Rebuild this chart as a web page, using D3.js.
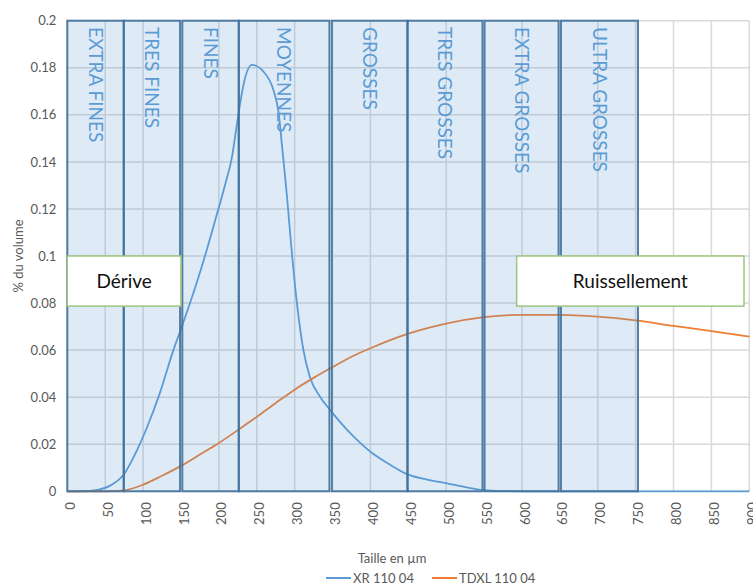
<!DOCTYPE html>
<html>
<head>
<meta charset="utf-8">
<script src="https://cdn.jsdelivr.net/npm/d3@7"></script>
<style>
    body { margin: 0; background: #fff; }
    svg { display: block; }
    text { font-family: Lato, 'Open Sans', sans-serif; }
</style>
</head>
<body>
<div id="chart"></div>
<script>
// particle size classes (µm)
const bandNames = ['EXTRA FINES', 'TRES FINES', 'FINES', 'MOYENNES', 'GROSSES', 'TRES GROSSES', 'EXTRA GROSSES', 'ULTRA GROSSES'];
const bandStart = [0, 74.5, 151.8, 226.3, 349.1, 448.9, 550.6, 651.4];
const bandEnd = [74.5, 148.8, 226.3, 345.9, 448.9, 547.9, 648.3, 753.1];

// annotation zones
const zoneNames = ['Dérive', 'Ruissellement'];
const zoneStart = [0, 593];
const zoneEnd = [150, 893];
const zoneTop = [0.1, 0.1];
const zoneBottom = [0.0787, 0.0787];

// XR 110 04
const xrSizes = [0, 25, 40, 56, 74, 92, 105, 122, 140, 150, 162, 177, 195, 208, 217, 226, 232, 243.5, 259, 272, 279, 283, 290, 296, 303, 311.6, 320, 334, 347, 378, 400, 425, 449, 475, 501, 525, 549, 575, 600, 700, 800, 900];
const xrValues = [0, 0.0001, 0.0006, 0.0023, 0.0069, 0.0175, 0.027, 0.0416, 0.06, 0.069, 0.08, 0.095, 0.115, 0.13, 0.1415, 0.1606, 0.172, 0.1812, 0.1783, 0.1705, 0.1606, 0.148, 0.125, 0.1025, 0.08, 0.06, 0.0487, 0.040, 0.0345, 0.0232, 0.0168, 0.0115, 0.0072, 0.005, 0.0034, 0.0018, 0.0005, 0.0001, 0, 0, 0, 0];

// TDXL 110 04
const tdxlSizes = [0, 50, 75, 100, 125, 150, 175, 200, 225, 250, 275, 300, 325, 350, 375, 400, 450, 500, 550, 600, 650, 700, 750, 800, 850, 900];
const tdxlValues = [0, 0, 0.0004, 0.0028, 0.0066, 0.0108, 0.0156, 0.0205, 0.026, 0.0316, 0.0375, 0.0432, 0.0482, 0.0528, 0.0572, 0.0608, 0.067, 0.0713, 0.074, 0.075, 0.075, 0.0742, 0.0726, 0.0703, 0.0681, 0.0657];

const xTickLabels = ['0', '50', '100', '150', '200', '250', '300', '350', '400', '450', '500', '550', '600', '650', '700', '750', '800', '850', '900'];
const yTickLabels = ['0', '0.02', '0.04', '0.06', '0.08', '0.1', '0.12', '0.14', '0.16', '0.18', '0.2'];

const seriesNames = ['XR 110 04', 'TDXL 110 04'];
const seriesColors = ['#5b9bd5', '#ed7d31'];

function getConfiguration() {
    let width = 753, height = 584;
    let plot = { left: 67.3, right: 749.3, top: 20.7, bottom: 491.3 };
    let svg = d3.select('#chart').append('svg')
        .attr('width', width)
        .attr('height', height);
    let xScaler = d3.scaleLinear().domain([0, 900]).range([plot.left, plot.right]);
    let yScaler = d3.scaleLinear().domain([0, 0.2]).range([plot.bottom, plot.top]);
    return { svg, plot, xScaler, yScaler };
}

function drawGrid(config) {
    let { svg, xScaler, yScaler } = config;
    let grid = svg.append('g').attr('class', 'grid');
    grid.selectAll('line.v')
        .data(xTickLabels.map(Number))
        .enter().append('line')
        .attr('x1', d => xScaler(d)).attr('x2', d => xScaler(d))
        .attr('y1', yScaler(0)).attr('y2', yScaler(0.2))
        .attr('stroke', '#d9d9d9').attr('stroke-width', 1.5);
    grid.selectAll('line.h')
        .data(yTickLabels.map(Number))
        .enter().append('line')
        .attr('x1', xScaler(0)).attr('x2', xScaler(900))
        .attr('y1', d => yScaler(d)).attr('y2', d => yScaler(d))
        .attr('stroke', '#d9d9d9').attr('stroke-width', 1.5);
}

function drawAxes(config) {
    let { svg, plot, xScaler, yScaler } = config;

    let yAxis = d3.axisLeft(yScaler)
        .tickValues(yTickLabels.map(Number))
        .tickFormat((d, i) => yTickLabels[i])
        .tickSize(0).tickPadding(11);
    let yg = svg.append('g').attr('transform', `translate(${plot.left},0)`).call(yAxis);
    yg.select('.domain').remove();
    yg.selectAll('text').attr('font-size', 13).attr('fill', '#595959')
        .attr('font-family', 'Lato, sans-serif');

    let xAxis = d3.axisBottom(xScaler)
        .tickValues(xTickLabels.map(Number))
        .tickFormat((d, i) => xTickLabels[i])
        .tickSize(0);
    let xg = svg.append('g').attr('transform', `translate(0,${plot.bottom})`).call(xAxis);
    xg.select('.domain').remove();
    xg.selectAll('text')
        .attr('font-size', 13).attr('fill', '#595959')
        .attr('font-family', 'Lato, sans-serif')
        .attr('text-anchor', 'end')
        .attr('x', 0).attr('y', 0).attr('dy', '0.35em')
        .attr('transform', 'translate(2.5,11) rotate(-90)');

    svg.append('text')
        .attr('x', 392).attr('y', 563)
        .attr('text-anchor', 'middle')
        .attr('font-size', 13).attr('fill', '#595959')
        .text('Taille en µm');

    svg.append('text')
        .attr('transform', 'translate(23,256) rotate(-90)')
        .attr('text-anchor', 'middle')
        .attr('font-size', 13).attr('fill', '#595959')
        .text('% du volume');
}

function drawSeries(config) {
    let { svg, xScaler, yScaler } = config;
    let line = d3.line()
        .x(d => xScaler(d[0]))
        .y(d => yScaler(d[1]))
        .curve(d3.curveMonotoneX);
    let series = [
        d3.zip(xrSizes, xrValues),
        d3.zip(tdxlSizes, tdxlValues)
    ];
    svg.append('g').attr('class', 'series')
        .selectAll('path')
        .data(series)
        .enter().append('path')
        .attr('d', line)
        .attr('fill', 'none')
        .attr('stroke', (d, i) => seriesColors[i])
        .attr('stroke-width', 1.8);
}

function drawBands(config) {
    let { svg, xScaler, yScaler } = config;
    let bands = bandNames.map((name, i) => ({ name, start: bandStart[i], end: bandEnd[i] }));
    let g = svg.append('g').attr('class', 'bands');
    g.selectAll('rect')
        .data(bands)
        .enter().append('rect')
        .attr('x', d => xScaler(d.start))
        .attr('y', yScaler(0.2))
        .attr('width', d => xScaler(d.end) - xScaler(d.start))
        .attr('height', yScaler(0) - yScaler(0.2))
        .attr('fill', '#5b9bd5').attr('fill-opacity', 0.2)
        .attr('stroke', '#41719c').attr('stroke-opacity', 0.9)
        .attr('stroke-width', 2);
    g.selectAll('text')
        .data(bands)
        .enter().append('text')
        .attr('transform', d => `translate(${(xScaler(d.start) + xScaler(d.end)) / 2},27) rotate(90)`)
        .attr('dy', '0.35em')
        .attr('font-size', 19)
        .attr('fill', '#5b9bd5')
        .text(d => d.name);
}

function drawZones(config) {
    let { svg, xScaler, yScaler } = config;
    let zones = zoneNames.map((name, i) => ({ name, start: zoneStart[i], end: zoneEnd[i], top: zoneTop[i], bottom: zoneBottom[i] }));
    let g = svg.append('g').attr('class', 'zones');
    g.selectAll('rect')
        .data(zones)
        .enter().append('rect')
        .attr('x', d => xScaler(d.start))
        .attr('y', d => yScaler(d.top))
        .attr('width', d => xScaler(d.end) - xScaler(d.start))
        .attr('height', d => yScaler(d.bottom) - yScaler(d.top))
        .attr('fill', '#fff')
        .attr('stroke', '#9cc67f').attr('stroke-width', 1.5);
    g.selectAll('text')
        .data(zones)
        .enter().append('text')
        .attr('x', d => (xScaler(d.start) + xScaler(d.end)) / 2)
        .attr('y', d => (yScaler(d.top) + yScaler(d.bottom)) / 2)
        .attr('dy', '0.36em')
        .attr('text-anchor', 'middle')
        .attr('font-size', 19)
        .attr('fill', '#111')
        .text(d => d.name);
}

function drawLegend(config) {
    let { svg } = config;
    let items = [{ x: 326 }, { x: 432 }];
    let g = svg.append('g').attr('class', 'legend');
    items.forEach((item, i) => {
        g.append('line')
            .attr('x1', item.x).attr('x2', item.x + 25)
            .attr('y1', 578).attr('y2', 578)
            .attr('stroke', seriesColors[i]).attr('stroke-width', 2);
        g.append('text')
            .attr('x', item.x + 27).attr('y', 582.5)
            .attr('font-size', 13).attr('fill', '#595959')
            .text(seriesNames[i]);
    });
}

function drawChart() {
    let config = getConfiguration();
    drawGrid(config);
    drawSeries(config);
    drawBands(config);
    drawAxes(config);
    drawZones(config);
    drawLegend(config);
}

drawChart();
</script>
</body>
</html>
